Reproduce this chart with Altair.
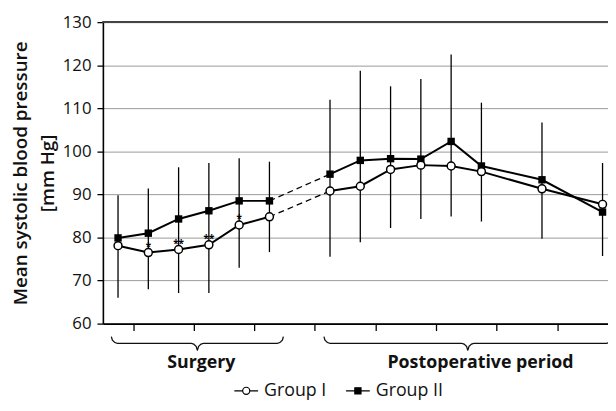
import altair as alt
import pandas as pd

# ---- data ----
time_x = [0.5, 1.5, 2.5, 3.5, 4.5, 5.5, 7.5, 8.5, 9.5, 10.5, 11.5, 12.5, 14.5, 16.5]
period = ["Surgery"] * 6 + ["Postoperative period"] * 8
group1 = [78.1, 76.5, 77.2, 78.3, 82.9, 84.8, 90.8, 91.9, 95.8, 96.8, 96.6, 95.3, 91.3, 87.7]
group2 = [79.9, 81.0, 84.3, 86.2, 88.5, 88.5, 94.7, 97.9, 98.3, 98.2, 102.3, 96.6, 93.4, 85.9]
err_high = [89.8, 91.4, 96.3, 97.3, 98.4, 97.6, 112.0, 118.7, 115.1, 116.8, 122.5, 111.3, 106.7, 97.3]
err_low = [66.0, 68.0, 67.1, 67.1, 73.0, 76.6, 75.5, 78.9, 82.2, 84.3, 84.9, 83.7, 79.7, 75.7]
signif = ["", "*", "**", "**", "*", "", "", "", "", "", "", "", "", ""]
group_names = ["Group I", "Group II"]
x_ticks = list(range(1, 17))
y_ticks = [60, 70, 80, 90, 100, 110, 120, 130]
brace_names = ["Surgery", "Postoperative period"]
brace_start = [0.28, 7.3]
brace_mid = [3.12, 12.05]
brace_end = [5.96, 16.8]
brace_label_x = [3.25, 12.47]

FONT = "Open Sans"
X_DOMAIN = [0, 16.68]
Y_DOMAIN = [60, 130]

# ---- tables ----
pts = pd.DataFrame({"x": time_x, "period": period, "g1": group1, "g2": group2,
                    "lo": err_low, "hi": err_high, "sig": signif})

long = pd.concat([
    pd.DataFrame({"x": time_x, "period": period, "value": group1, "group": group_names[0]}),
    pd.DataFrame({"x": time_x, "period": period, "value": group2, "group": group_names[1]}),
])

last_s = 5
first_p = 6
dash = pd.DataFrame({
    "x": [time_x[last_s], time_x[first_p], time_x[last_s], time_x[first_p]],
    "value": [group1[last_s], group1[first_p], group2[last_s], group2[first_p]],
    "group": [group_names[0], group_names[0], group_names[1], group_names[1]],
})

# brace geometry (decoration), in axis units
y_end, y_flat, y_tip, y_lab = 57.0, 55.4, 53.8, 50.8
brace_rows = []
for name, a, m, b in zip(brace_names, brace_start, brace_mid, brace_end):
    shape = [(a, y_end), (a + 0.04, 56.1), (a + 0.2, y_flat), (m - 0.2, y_flat),
             (m - 0.04, 54.7), (m, y_tip), (m + 0.04, 54.7), (m + 0.2, y_flat),
             (b - 0.2, y_flat), (b - 0.04, 56.1), (b, y_end)]
    for i, (xx, yy) in enumerate(shape):
        brace_rows.append({"name": name, "x": xx, "y": yy, "o": i})
braces = pd.DataFrame(brace_rows)
brace_lab = pd.DataFrame({"name": brace_names, "x": brace_label_x, "y": [y_lab, y_lab]})

PATH_I = "M-1,0H-0.3M0.3,0H1M0.3,0A0.3,0.3,0,1,1,-0.3,0A0.3,0.3,0,1,1,0.3,0Z"
PATH_II = "M-1,0H1M-0.26,-0.26H0.26V0.26H-0.26Z"

xs = alt.Scale(domain=X_DOMAIN, nice=False, zero=False)
ys = alt.Scale(domain=Y_DOMAIN, nice=False, zero=False)

X = alt.X("x:Q", scale=xs, axis=alt.Axis(values=x_ticks, labels=False, grid=False, tickSize=7,
                                          tickColor="black", tickWidth=1.3, title=None,
                                          domainColor="black", domainWidth=1.6))
Y = alt.Y("value:Q", scale=ys,
          axis=alt.Axis(values=y_ticks, grid=True, gridColor="#9a9a9a", gridWidth=1,
                        tickSize=6, tickColor="black", tickWidth=1.3,
                        domainColor="black", domainWidth=1.6,
                        labelFontSize=17, labelFont=FONT, labelColor="#111", labelPadding=6,
                        title=["Mean systolic blood pressure", "[mm Hg]"],
                        titleFont=FONT, titleFontSize=19, titleFontWeight=600,
                        titleColor="#111", titlePadding=5, titleLineHeight=27))

lines = alt.Chart(long).mark_line(color="black", strokeWidth=2).encode(
    x=X, y=Y, detail=["group:N", "period:N"])

dashed = alt.Chart(dash).mark_line(color="black", strokeWidth=1.3, strokeDash=[6, 4]).encode(
    x=alt.X("x:Q", scale=xs), y=alt.Y("value:Q", scale=ys), detail="group:N")

errs = alt.Chart(pts).mark_rule(color="black", strokeWidth=1.3).encode(
    x=alt.X("x:Q", scale=xs), y=alt.Y("lo:Q", scale=ys), y2="hi:Q")

top_rule = alt.Chart(pts).mark_rule(color="#444", strokeWidth=1.6).encode(y=alt.datum(130))

squares = alt.Chart(pts).mark_square(color="black", size=56, opacity=1).encode(
    x=alt.X("x:Q", scale=xs), y=alt.Y("g2:Q", scale=ys))

circles = alt.Chart(pts).mark_point(shape="circle", filled=True, fill="white", stroke="black",
                                    strokeWidth=1.5, size=64, opacity=1).encode(
    x=alt.X("x:Q", scale=xs), y=alt.Y("g1:Q", scale=ys))

stars = alt.Chart(pts).transform_filter("datum.sig != ''").mark_text(
    fontSize=10, font=FONT, fontWeight="bold", baseline="alphabetic", dy=-3, color="black").encode(
    x=alt.X("x:Q", scale=xs), y=alt.Y("g1:Q", scale=ys), text="sig:N")

brace_lines = alt.Chart(braces).mark_line(color="#111", strokeWidth=1.3, interpolate="monotone").encode(
    x=alt.X("x:Q", scale=xs), y=alt.Y("y:Q", scale=ys), detail="name:N", order="o:Q")

brace_text = alt.Chart(brace_lab).mark_text(fontSize=18, font=FONT, fontWeight="bold",
                                             baseline="middle", color="#111").encode(
    x=alt.X("x:Q", scale=xs), y=alt.Y("y:Q", scale=ys), text="name:N")

leg = alt.Legend(orient="none", legendX=132, legendY=360, direction="horizontal", title=None,
                 symbolSize=576, symbolStrokeWidth=1.2,
                 labelFontSize=18, labelFont=FONT, labelColor="#111", labelOffset=5,
                 columnPadding=16, padding=0)

gscale = dict(domain=group_names)
legend_layer = alt.Chart(long).transform_filter("datum.x < -100").mark_point(
    filled=True, strokeWidth=1.2, opacity=1).encode(
    x=alt.X("x:Q", scale=xs), y=alt.Y("value:Q", scale=ys),
    shape=alt.Shape("group:N", scale=alt.Scale(range=[PATH_I, PATH_II], **gscale), legend=leg),
    fill=alt.Fill("group:N", scale=alt.Scale(range=["white", "black"], **gscale), legend=leg),
    stroke=alt.Stroke("group:N", scale=alt.Scale(range=["black", "black"], **gscale), legend=leg),
)

chart = alt.layer(
    top_rule, errs, dashed, lines, squares, circles, stars, brace_lines, brace_text, legend_layer
).properties(
    width=511, height=305,
    autosize=alt.AutoSizeParams(type="none"),
    padding={"left": 96, "top": 12, "right": 0, "bottom": 78},
).configure_view(stroke=None).configure(background="white")

chart.save("out.html", embed_options={"renderer": "svg", "actions": False})
